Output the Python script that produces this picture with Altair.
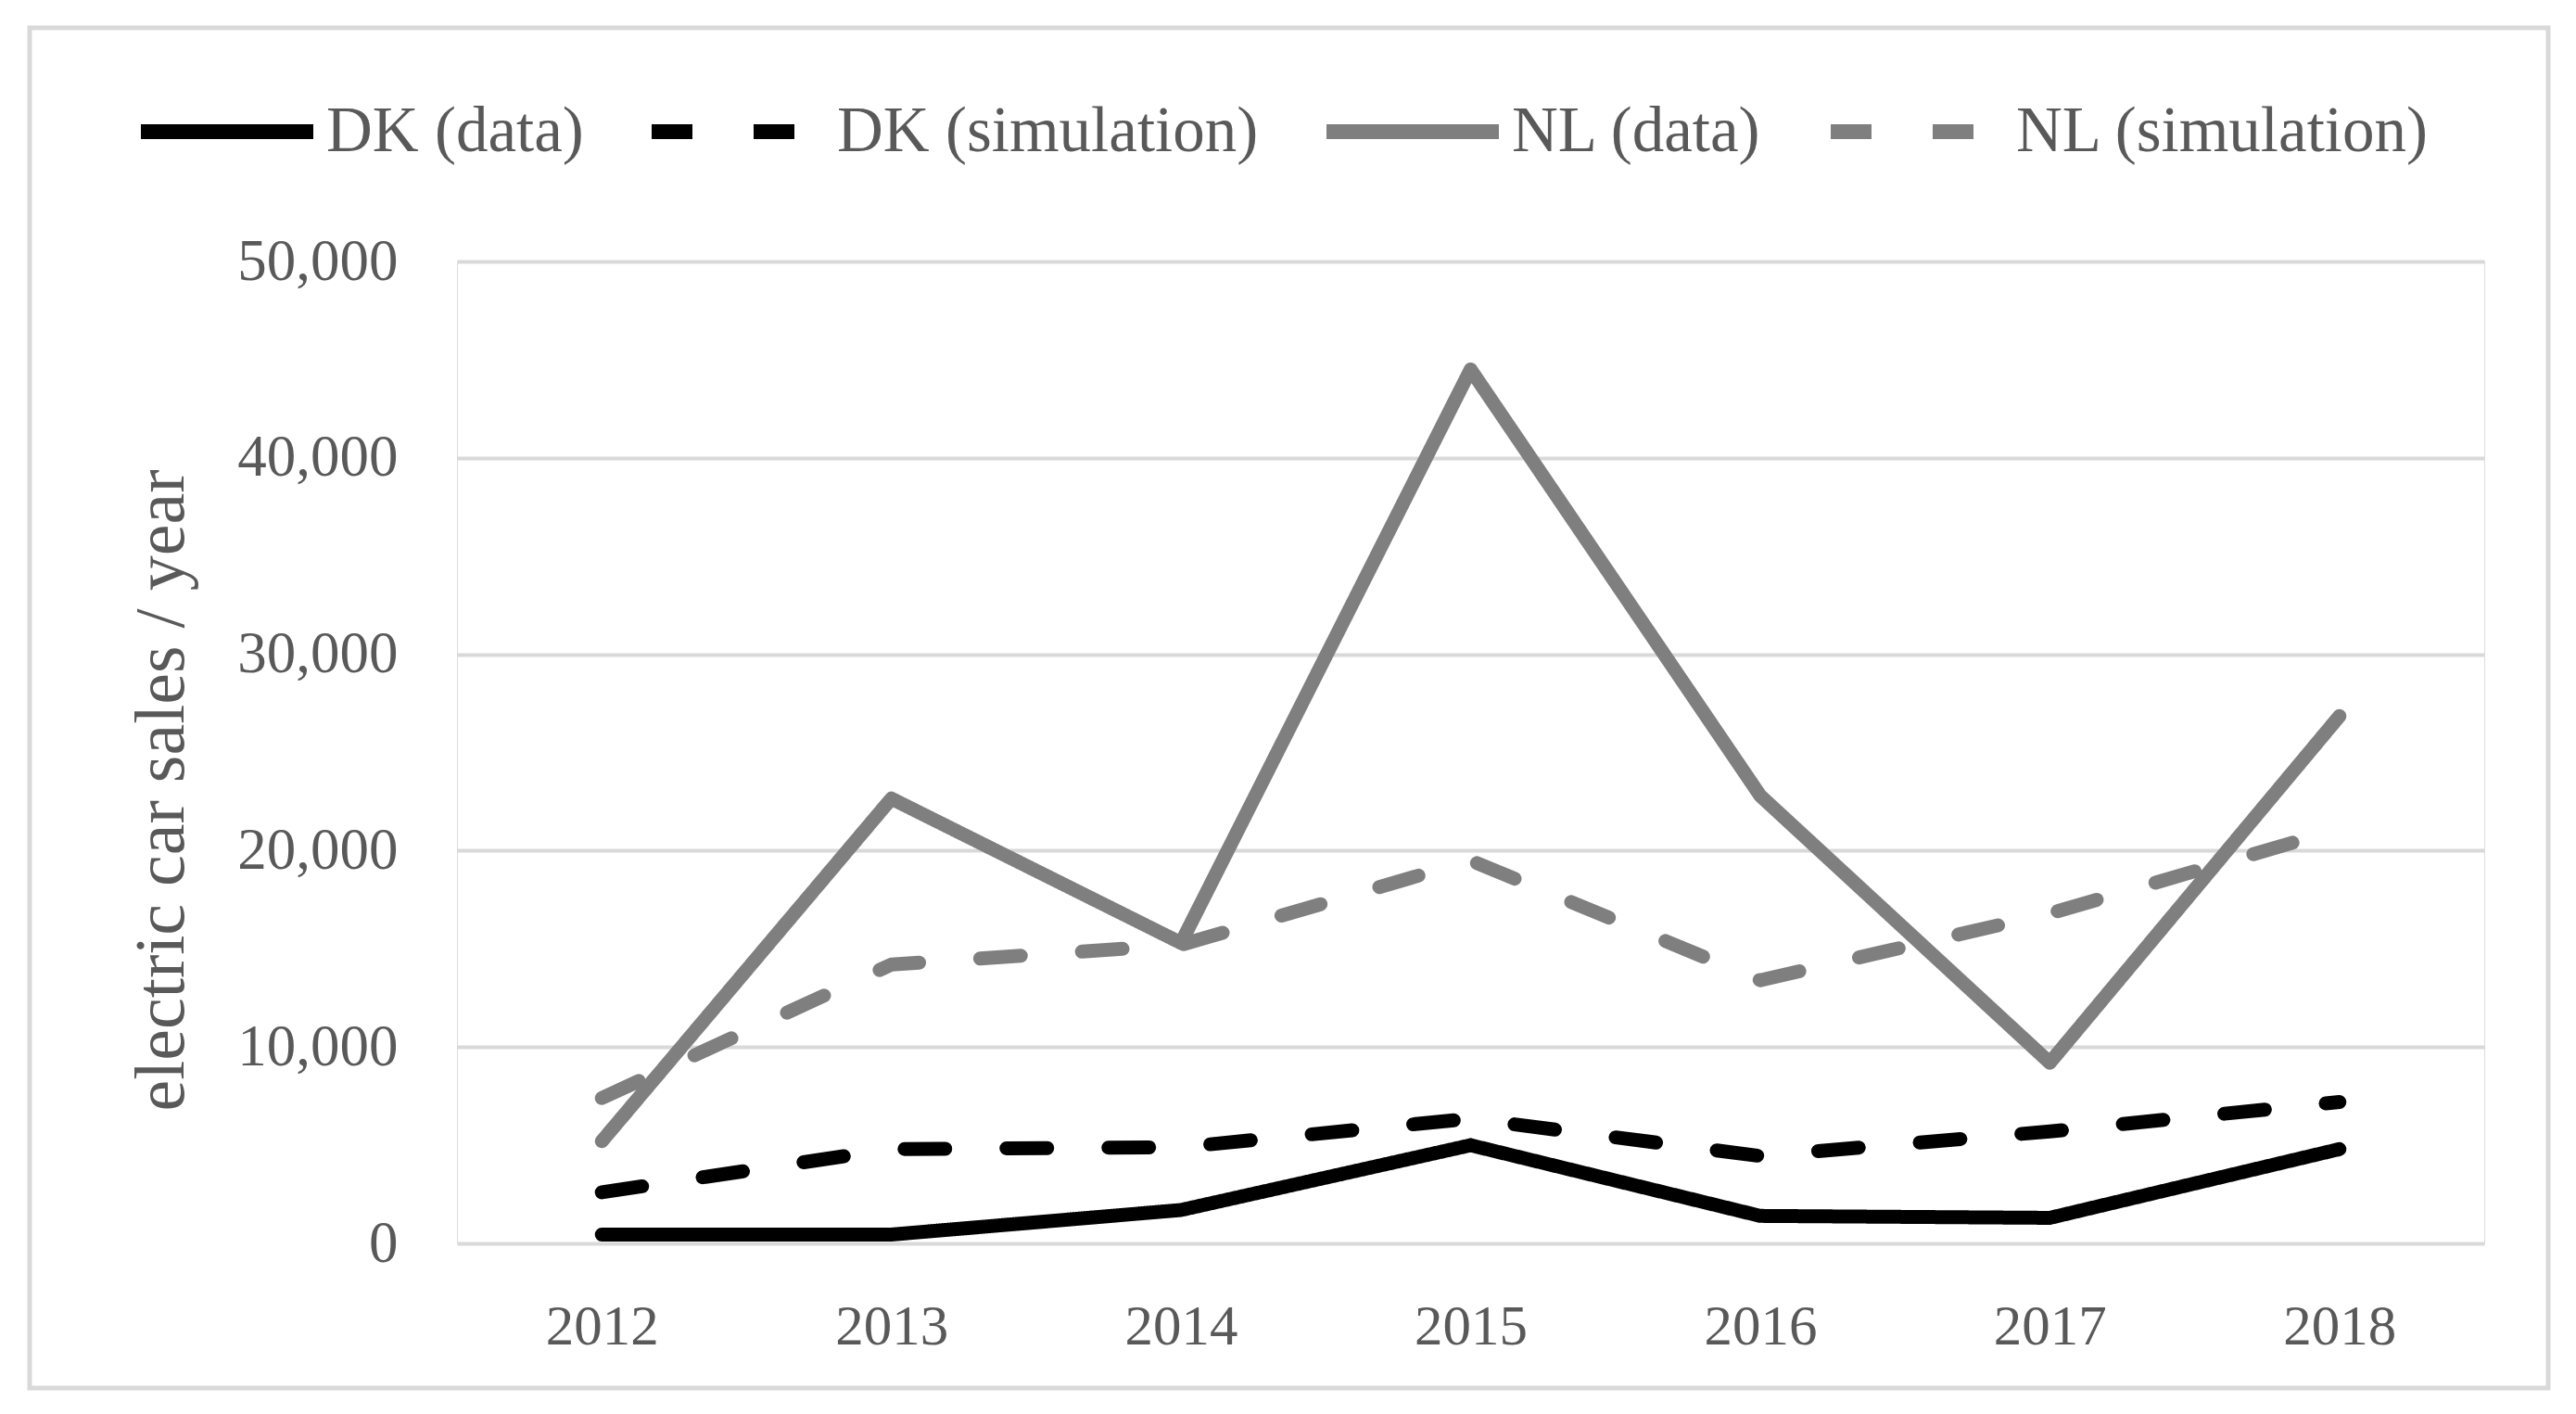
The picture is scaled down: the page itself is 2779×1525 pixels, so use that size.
import altair as alt
import pandas as pd

years = ["2012", "2013", "2014", "2015", "2016", "2017", "2018"]
dk_data = [450, 450, 1700, 5000, 1400, 1300, 4800]
dk_sim = [2600, 4800, 4900, 6350, 4450, 5700, 7200]
nl_data = [5200, 22650, 15300, 44500, 22800, 9200, 26850]
nl_sim = [7400, 14200, 15200, 19500, 13400, 16800, 21100]

series_names = ["DK (data)", "DK (simulation)", "NL (data)", "NL (simulation)"]
series_values = [dk_data, dk_sim, nl_data, nl_sim]

rows = []
for name, vals in zip(series_names, series_values):
    for y, v in zip(years, vals):
        rows.append({"year": y, "sales": v, "series": name})
df = pd.DataFrame(rows)

FONT = "Liberation Serif"
TXT = "#595959"
GRID = "#d9d9d9"

W, H = 2187, 1059
PL, PT = 485, 274

frame = alt.Chart(alt.Data(values=[{"a": 1}])).mark_rect(
    fill=None, stroke=GRID, strokeWidth=5
).encode(
    x=alt.value(32 - 8 - PL),
    x2=alt.value(2749 - 8 - PL),
    y=alt.value(30 - 8 - PT),
    y2=alt.value(1497 - 8 - PT),
)

def make_legend():
    return alt.Legend(
        title=None,
        orient="none",
        direction="horizontal",
        columns=4,
        legendX=-349,
        legendY=-241,
        symbolType="stroke",
        symbolSize=186 * 186,
        symbolStrokeWidth=16,
        labelFont=FONT,
        labelFontSize=69,
        labelColor=TXT,
        labelOffset=6,
        columnPadding=41,
        labelLimit=1000,
    )

lines = alt.Chart(df).mark_line(
    strokeWidth=15, strokeJoin="round", strokeCap="round"
).encode(
    x=alt.X(
        "year:O",
        sort=years,
        scale=alt.Scale(type="point", padding=0.5),
        axis=alt.Axis(
            title=None,
            domain=False,
            ticks=False,
            labelAngle=0,
            labelFont=FONT,
            labelFontSize=61,
            labelColor=TXT,
            labelPadding=60,
        ),
    ),
    y=alt.Y(
        "sales:Q",
        scale=alt.Scale(domain=[0, 50000]),
        axis=alt.Axis(
            values=[0, 10000, 20000, 30000, 40000, 50000],
            format=",.0f",
            title="electric car sales / year",
            titleFont=FONT,
            titleFontSize=76,
            titleFontWeight="normal",
            titleColor=TXT,
            titleAngle=-90,
            titleX=-319,
            titleY=570,
            titleAlign="center",
            titleBaseline="middle",
            domain=False,
            ticks=False,
            labelFont=FONT,
            labelFontSize=63,
            labelColor=TXT,
            labelPadding=64,
            grid=True,
            gridColor=GRID,
            gridWidth=4,
        ),
    ),
    color=alt.Color(
        "series:N",
        scale=alt.Scale(domain=series_names,
                        range=["#000000", "#000000", "#7f7f7f", "#7f7f7f"]),
        legend=make_legend(),
    ),
    strokeDash=alt.StrokeDash(
        "series:N",
        scale=alt.Scale(domain=series_names,
                        range=[[1, 0], [44, 66], [1, 0], [44, 66]]),
        legend=make_legend(),
    ),
    order=alt.Order("year:O"),
)

chart = alt.layer(frame, lines).properties(
    width=W,
    height=H,
    padding={"left": PL, "top": PT, "right": 91, "bottom": 176},
    autosize=alt.AutoSizeParams(type="none"),
).configure_view(stroke=None).configure(background="white")

chart.save("out.html", embed_options={"renderer": "svg", "actions": False})
